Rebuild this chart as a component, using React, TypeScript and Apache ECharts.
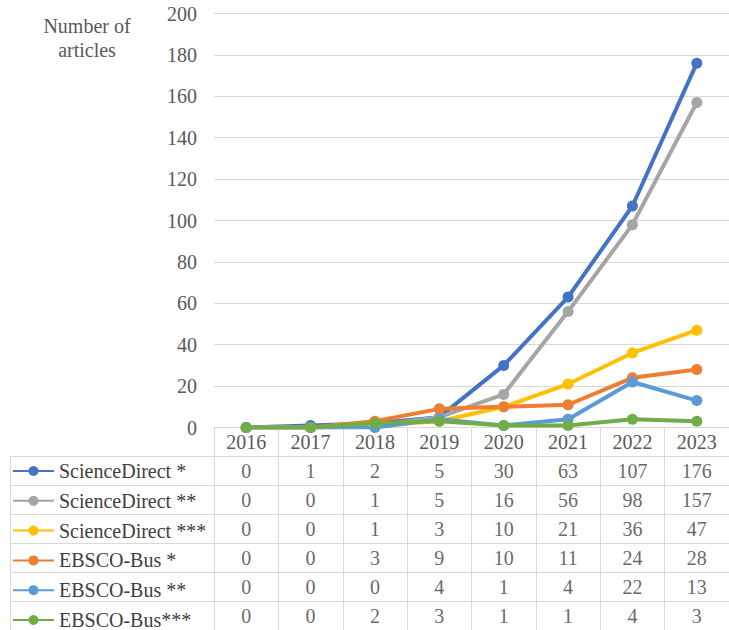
import React, { useEffect, useRef } from "react";
import * as echarts from "echarts";

const years = ["2016", "2017", "2018", "2019", "2020", "2021", "2022", "2023"];
const seriesNames = [
  "ScienceDirect *",
  "ScienceDirect **",
  "ScienceDirect ***",
  "EBSCO-Bus *",
  "EBSCO-Bus **",
  "EBSCO-Bus***",
];
const scienceDirect1 = [0, 1, 2, 5, 30, 63, 107, 176];
const scienceDirect2 = [0, 0, 1, 5, 16, 56, 98, 157];
const scienceDirect3 = [0, 0, 1, 3, 10, 21, 36, 47];
const ebsco1 = [0, 0, 3, 9, 10, 11, 24, 28];
const ebsco2 = [0, 0, 0, 4, 1, 4, 22, 13];
const ebsco3 = [0, 0, 2, 3, 1, 1, 4, 3];
const seriesValues = [scienceDirect1, scienceDirect2, scienceDirect3, ebsco1, ebsco2, ebsco3];
const seriesColors = ["#4472C4", "#A5A5A5", "#FFC000", "#ED7D31", "#5B9BD5", "#70AD47"];

const FONT = "Times New Roman, Liberation Serif, serif";
const GRID_COLOR = "#d9d9d9";
const TEXT_COLOR = "#595959";
const TABLE_TEXT = "#404040";

export default function App() {
  const ref = useRef<HTMLDivElement>(null);
  useEffect(() => {
    if (!ref.current) return;
    const chart = echarts.init(ref.current, undefined, { renderer: "svg" });

    const lineSeries = seriesNames.map((name, i) => ({
      name,
      type: "line",
      xAxisIndex: 0,
      yAxisIndex: 0,
      data: seriesValues[i],
      symbol: "circle",
      symbolSize: 11,
      color: seriesColors[i],
      lineStyle: { width: 4, color: seriesColors[i] },
      itemStyle: { color: seriesColors[i] },
    }));

    const cells: number[][] = [];
    seriesValues.forEach((vals, r) => {
      vals.forEach((v, c) => cells.push([c, r, v]));
    });

    const option: any = {
      animation: false,
      textStyle: { fontFamily: FONT },
      title: {
        text: "Number of\narticles",
        left: 87,
        top: 14,
        padding: 0,
        textAlign: "center",
        textStyle: {
          fontFamily: FONT,
          fontSize: 20,
          fontWeight: "normal",
          color: TEXT_COLOR,
          lineHeight: 24,
        },
      },
      legend: {
        data: seriesNames,
        orient: "vertical",
        left: 12,
        top: 461,
        height: 180,
        padding: 0,
        itemWidth: 41,
        itemHeight: 12.5,
        itemGap: 9.8,
        textStyle: { fontFamily: FONT, fontSize: 20, color: TABLE_TEXT, lineHeight: 20 },
        selectedMode: false,
      },
      grid: [
        { left: 214, top: 13.5, width: 520, height: 414, containLabel: false },
        { left: 214, top: 456, width: 520, height: 178.8, containLabel: false },
      ],
      xAxis: [
        {
          type: "category",
          gridIndex: 0,
          data: years,
          boundaryGap: true,
          axisLine: { show: true, lineStyle: { color: GRID_COLOR, width: 1 } },
          axisTick: { show: true, length: 28, interval: 0, lineStyle: { color: GRID_COLOR } },
          axisLabel: { interval: 0, margin: 4, fontSize: 20, color: TEXT_COLOR, fontFamily: FONT },
          splitLine: { show: false },
        },
        {
          type: "category",
          gridIndex: 1,
          data: years,
          boundaryGap: true,
          axisLine: { show: false },
          axisTick: { show: false },
          axisLabel: { show: false, interval: 0 },
          splitLine: { show: true, interval: 0, lineStyle: { color: GRID_COLOR } },
        },
      ],
      yAxis: [
        {
          type: "value",
          gridIndex: 0,
          min: 0,
          max: 200,
          interval: 20,
          axisLine: { show: false },
          axisTick: { show: false },
          axisLabel: { margin: 17, fontSize: 20, color: TEXT_COLOR, fontFamily: FONT },
          splitLine: { show: true, lineStyle: { color: GRID_COLOR } },
        },
        {
          type: "category",
          gridIndex: 1,
          data: seriesNames,
          inverse: true,
          axisLine: { show: false },
          axisTick: { show: true, length: 204, interval: 0, lineStyle: { color: GRID_COLOR } },
          axisLabel: { show: false, interval: 0 },
          splitLine: { show: true, interval: 0, lineStyle: { color: GRID_COLOR } },
        },
        {
          type: "value",
          gridIndex: 1,
          min: 0,
          max: 1,
          offset: 204,
          position: "left",
          axisLine: { show: true, lineStyle: { color: GRID_COLOR } },
          axisTick: { show: false },
          axisLabel: { show: false },
          splitLine: { show: false },
        },
      ],
      series: [
        ...lineSeries,
        {
          name: "table",
          type: "scatter",
          xAxisIndex: 1,
          yAxisIndex: 1,
          data: cells,
          symbolSize: 1,
          itemStyle: { color: "transparent" },
          label: {
            show: true,
            position: "inside",
            formatter: (p: any) => String(p.value[2]),
            fontFamily: FONT,
            fontSize: 20,
            color: TABLE_TEXT,
          },
          silent: true,
        },
      ],
    };
    chart.setOption(option);
    return () => chart.dispose();
  }, []);
  return (
    <div
      ref={ref}
      style={{ position: "absolute", left: 0, top: 0, width: 729, height: 630, background: "#fff" }}
    />
  );
}
